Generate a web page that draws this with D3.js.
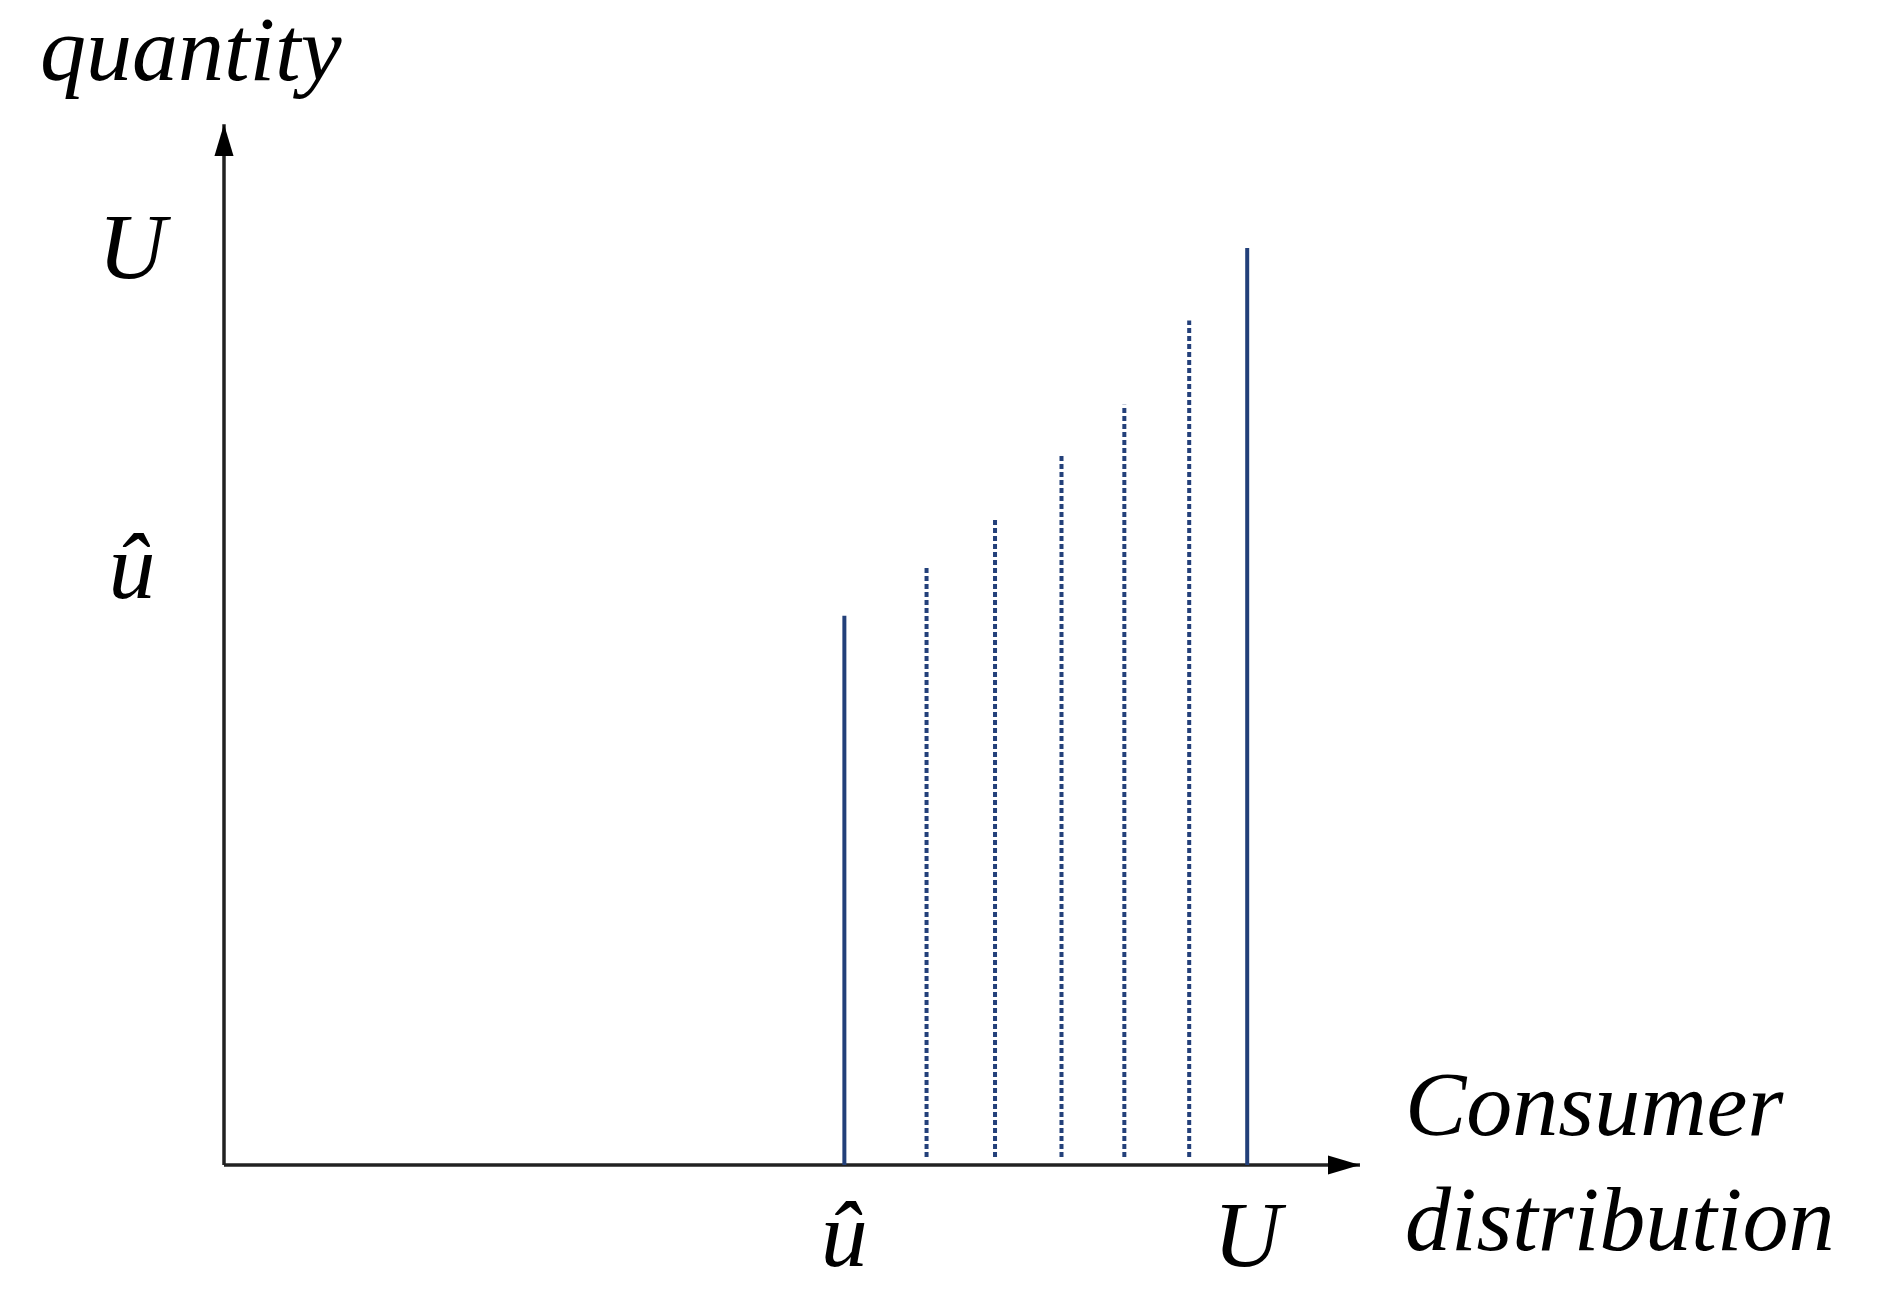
<!DOCTYPE html>
<html>
<head>
<meta charset="utf-8">
<script src="https://cdn.jsdelivr.net/npm/d3@7"></script>
<style>
  body { margin: 0; background: #fff; }
  text { font-family: "Liberation Serif", "DejaVu Serif", serif; font-style: italic; fill: #000; }
</style>
</head>
<body>
<svg id="chart" width="1884" height="1306"></svg>
<script>
// consumer position (û = 0, U = 1) and quantity (U = 1)
const positions = [0, 0.204, 0.374, 0.539, 0.695, 0.856, 1]
const quantities = [0.599, 0.651, 0.704, 0.776, 0.829, 0.921, 1]
const lineStyles = ["solid", "dash", "dash", "dash", "dash", "dash", "solid"]
const xTicks = [{ v: 0, label: "û" }, { v: 1, label: "U" }]
const yTicks = [{ v: 0.651, label: "û" }, { v: 1, label: "U" }]

const svg = d3.select("#chart")
const x = d3.scaleLinear().domain([-1.54, 1.28]).range([224, 1360])
const y = d3.scaleLinear().domain([0, 1]).range([1165, 248])
const navy = "#23407a"

svg.append("defs").append("marker")
  .attr("id", "arrow")
  .attr("viewBox", "0 0 10 10")
  .attr("refX", 10).attr("refY", 5)
  .attr("markerWidth", 32).attr("markerHeight", 32)
  .attr("markerUnits", "userSpaceOnUse")
  .attr("orient", "auto")
  .append("path")
  .attr("d", "M0,2 L10,5 L0,8 Z")
  .attr("fill", "#000")

// axes
svg.append("line")
  .attr("x1", x(-1.54)).attr("x2", x(1.28))
  .attr("y1", y(0)).attr("y2", y(0))
  .attr("stroke", "#222").attr("stroke-width", 3.5)
  .attr("marker-end", "url(#arrow)")
svg.append("line")
  .attr("x1", x(-1.54)).attr("x2", x(-1.54))
  .attr("y1", y(0)).attr("y2", y(1.135))
  .attr("stroke", "#222").attr("stroke-width", 3.5)
  .attr("marker-end", "url(#arrow)")

// vertical lines
svg.append("g").selectAll("line")
  .data(positions)
  .enter()
  .append("line")
  .attr("x1", d => x(d)).attr("x2", d => x(d))
  .attr("y1", (d, i) => lineStyles[i] === "solid" ? y(0) : y(0) - 8)
  .attr("y2", (d, i) => y(quantities[i]))
  .attr("stroke", navy)
  .attr("stroke-width", 4)
  .attr("stroke-dasharray", (d, i) => lineStyles[i] === "solid" ? null : "5,3")

// tick labels
svg.append("g").selectAll("text")
  .data(xTicks)
  .enter()
  .append("text")
  .attr("x", d => x(d.v))
  .attr("y", 1266)
  .attr("text-anchor", "middle")
  .attr("font-size", 94)
  .text(d => d.label)
svg.append("g").selectAll("text")
  .data(yTicks)
  .enter()
  .append("text")
  .attr("x", 132)
  .attr("y", d => y(d.v) + 30)
  .attr("text-anchor", "middle")
  .attr("font-size", 94)
  .text(d => d.label)

// axis titles
svg.append("text").attr("x", 40).attr("y", 80).attr("font-size", 92).text("quantity")
svg.append("text").attr("x", 1405).attr("y", 1135).attr("font-size", 92).text("Consumer")
svg.append("text").attr("x", 1405).attr("y", 1250).attr("font-size", 92).text("distribution")
</script>
</body>
</html>
